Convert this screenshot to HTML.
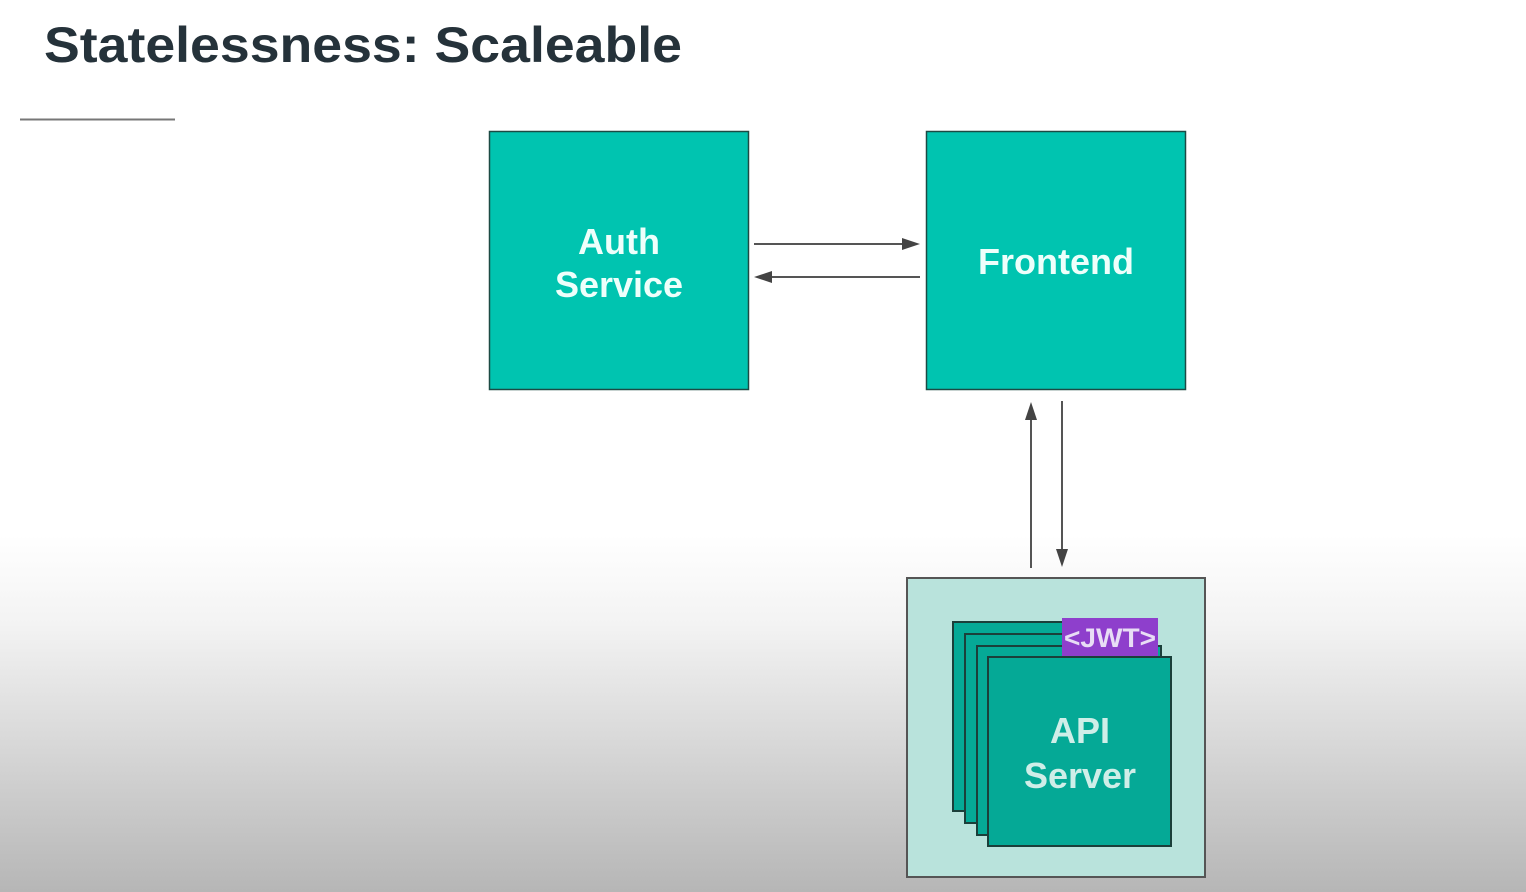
<!DOCTYPE html>
<html><head><meta charset="utf-8"><style>
html,body{margin:0;padding:0;width:1526px;height:892px;overflow:hidden;background:#fff}
svg{display:block}
text{font-family:"Liberation Sans",sans-serif;font-weight:bold}
</style></head><body>
<svg width="1526" height="892" viewBox="0 0 1526 892" xmlns="http://www.w3.org/2000/svg">
<defs>
<linearGradient id="bg" x1="0" y1="0" x2="0" y2="1">
<stop offset="0" stop-color="#ffffff"/>
<stop offset="0.6" stop-color="#ffffff"/>
<stop offset="0.7" stop-color="#f3f3f3"/>
<stop offset="1" stop-color="#b6b6b6"/>
</linearGradient>
</defs>
<rect x="0" y="0" width="1526" height="892" fill="url(#bg)"/>
<text x="44" y="62" font-size="50" fill="#25323a" textLength="638" lengthAdjust="spacingAndGlyphs">Statelessness: Scaleable</text>
<line x1="20" y1="119.5" x2="175" y2="119.5" stroke="#777" stroke-width="2"/>

<rect x="489.5" y="131.5" width="259" height="258" fill="#00c4b0" stroke="#1c4a44" stroke-width="1.5"/>
<rect x="926.5" y="131.5" width="259" height="258" fill="#00c4b0" stroke="#1c4a44" stroke-width="1.5"/>
<text x="619" y="254" font-size="36" fill="#eefffb" text-anchor="middle">Auth</text>
<text x="619" y="297" font-size="36" fill="#eefffb" text-anchor="middle">Service</text>
<text x="1056" y="274" font-size="36" fill="#eefffb" text-anchor="middle">Frontend</text>

<g stroke="#555" stroke-width="2" fill="#444">
<line x1="754" y1="244" x2="905" y2="244"/>
<polygon points="920,244 902,238 902,250" stroke="none"/>
<line x1="769" y1="277" x2="920" y2="277"/>
<polygon points="754,277 772,271 772,283" stroke="none"/>
<line x1="1031" y1="568" x2="1031" y2="418"/>
<polygon points="1031,402 1025,420 1037,420" stroke="none"/>
<line x1="1062" y1="401" x2="1062" y2="551"/>
<polygon points="1062,567 1056,549 1068,549" stroke="none"/>
</g>

<rect x="907" y="578" width="298" height="299" fill="#b9e3dc" stroke="#555" stroke-width="2"/>
<g stroke="#1b3f3a" stroke-width="2" fill="#05a996">
<rect x="953" y="622" width="184" height="189"/>
<rect x="965" y="634" width="184" height="189"/>
<rect x="977" y="646" width="184" height="189"/>
<rect x="988" y="657" width="183" height="189"/>
</g>
<rect x="1062" y="618" width="96" height="38" fill="#8e3fcc"/>
<text x="1110" y="647" font-size="27" fill="#e8ddf5" text-anchor="middle" textLength="92" lengthAdjust="spacingAndGlyphs">&lt;JWT&gt;</text>
<text x="1080" y="743" font-size="36" fill="#cfeee8" text-anchor="middle">API</text>
<text x="1080" y="788" font-size="36" fill="#cfeee8" text-anchor="middle">Server</text>
</svg>
</body></html>
